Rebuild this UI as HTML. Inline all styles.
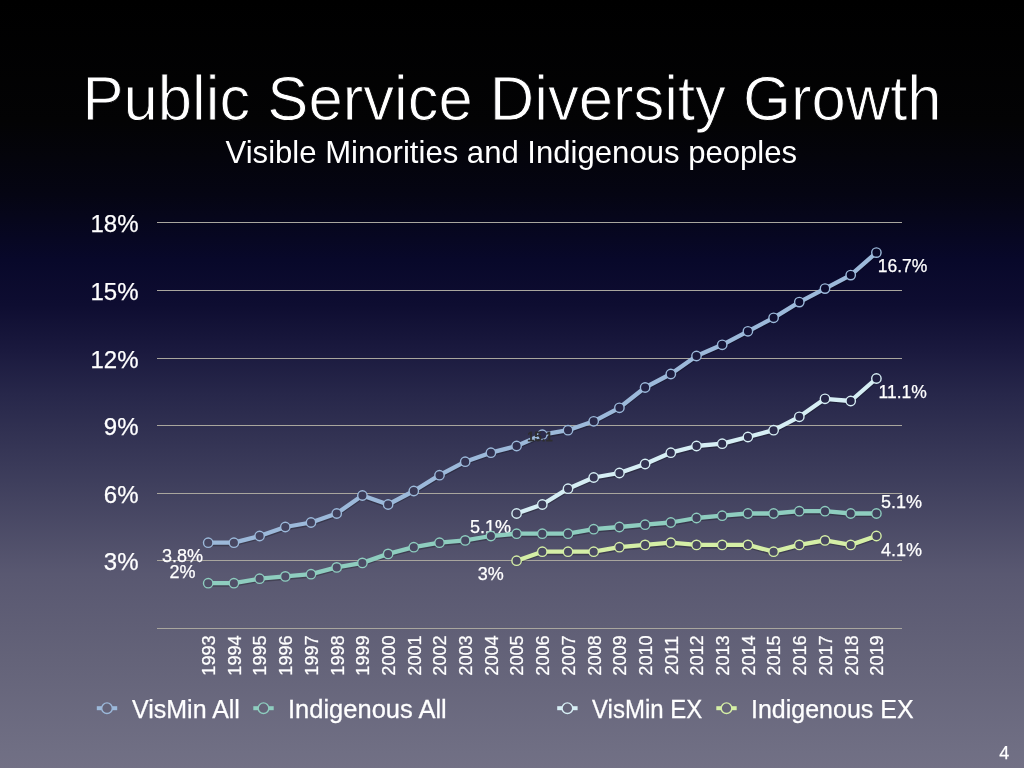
<!DOCTYPE html>
<html><head><meta charset="utf-8"><style>
html,body{margin:0;padding:0;width:1024px;height:768px;overflow:hidden}
body{background:linear-gradient(to bottom,#000000 0px,#030304 120px,#050513 195px,#08082a 260px,#0e0d31 305px,#1a193e 350px,#27274a 394px,#3f3f5d 484px,#595871 574px,#646379 660px,#706f84 754px,#727085 768px);font-family:"Liberation Sans", sans-serif}
svg{position:absolute;left:0;top:0;will-change:transform;-webkit-font-smoothing:antialiased}
svg text{font-family:"Liberation Sans", sans-serif;stroke:#fff;stroke-width:0.25px}
</style></head><body>
<svg width="1024" height="768" viewBox="0 0 1024 768">
<defs><linearGradient id="bg" gradientUnits="userSpaceOnUse" x1="0" y1="0" x2="0" y2="768">
<stop offset="0.0000" stop-color="#000000"/><stop offset="0.1562" stop-color="#030304"/><stop offset="0.2539" stop-color="#050513"/><stop offset="0.3385" stop-color="#08082a"/><stop offset="0.3971" stop-color="#0e0d31"/><stop offset="0.4557" stop-color="#1a193e"/><stop offset="0.5130" stop-color="#27274a"/><stop offset="0.6302" stop-color="#3f3f5d"/><stop offset="0.7474" stop-color="#595871"/><stop offset="0.8594" stop-color="#646379"/><stop offset="0.9818" stop-color="#706f84"/><stop offset="1.0000" stop-color="#727085"/>
</linearGradient></defs>
<text transform="translate(512,119.6) scale(1,1.035)" text-anchor="middle" font-size="61.6" fill="#fff" style="stroke:#020203;stroke-width:0.9px">Public Service Diversity Growth</text>
<text x="511.3" y="163.2" text-anchor="middle" font-size="31.1" fill="#fff" style="stroke:none">Visible Minorities and Indigenous peoples</text>
<rect x="157" y="628" width="745" height="1" fill="#a9a69e"/><rect x="157" y="560" width="745" height="1" fill="#a9a69e"/><rect x="157" y="493" width="745" height="1" fill="#a9a69e"/><rect x="157" y="425" width="745" height="1" fill="#a9a69e"/><rect x="157" y="358" width="745" height="1" fill="#a9a69e"/><rect x="157" y="290" width="745" height="1" fill="#a9a69e"/><rect x="157" y="222" width="745" height="1" fill="#a9a69e"/><text x="138.5" y="570.2" text-anchor="end" font-size="24" fill="#fff">3%</text><text x="138.5" y="503.2" text-anchor="end" font-size="24" fill="#fff">6%</text><text x="138.5" y="435.2" text-anchor="end" font-size="24" fill="#fff">9%</text><text x="138.5" y="368.2" text-anchor="end" font-size="24" fill="#fff">12%</text><text x="138.5" y="300.2" text-anchor="end" font-size="24" fill="#fff">15%</text><text x="138.5" y="232.2" text-anchor="end" font-size="24" fill="#fff">18%</text><text transform="translate(215.0,655.5) rotate(-90)" text-anchor="middle" font-size="18.2" fill="#fff">1993</text><text transform="translate(240.7,655.5) rotate(-90)" text-anchor="middle" font-size="18.2" fill="#fff">1994</text><text transform="translate(266.4,655.5) rotate(-90)" text-anchor="middle" font-size="18.2" fill="#fff">1995</text><text transform="translate(292.1,655.5) rotate(-90)" text-anchor="middle" font-size="18.2" fill="#fff">1996</text><text transform="translate(317.8,655.5) rotate(-90)" text-anchor="middle" font-size="18.2" fill="#fff">1997</text><text transform="translate(343.5,655.5) rotate(-90)" text-anchor="middle" font-size="18.2" fill="#fff">1998</text><text transform="translate(369.2,655.5) rotate(-90)" text-anchor="middle" font-size="18.2" fill="#fff">1999</text><text transform="translate(394.9,655.5) rotate(-90)" text-anchor="middle" font-size="18.2" fill="#fff">2000</text><text transform="translate(420.6,655.5) rotate(-90)" text-anchor="middle" font-size="18.2" fill="#fff">2001</text><text transform="translate(446.3,655.5) rotate(-90)" text-anchor="middle" font-size="18.2" fill="#fff">2002</text><text transform="translate(472.0,655.5) rotate(-90)" text-anchor="middle" font-size="18.2" fill="#fff">2003</text><text transform="translate(497.7,655.5) rotate(-90)" text-anchor="middle" font-size="18.2" fill="#fff">2004</text><text transform="translate(523.4,655.5) rotate(-90)" text-anchor="middle" font-size="18.2" fill="#fff">2005</text><text transform="translate(549.1,655.5) rotate(-90)" text-anchor="middle" font-size="18.2" fill="#fff">2006</text><text transform="translate(574.8,655.5) rotate(-90)" text-anchor="middle" font-size="18.2" fill="#fff">2007</text><text transform="translate(600.5,655.5) rotate(-90)" text-anchor="middle" font-size="18.2" fill="#fff">2008</text><text transform="translate(626.2,655.5) rotate(-90)" text-anchor="middle" font-size="18.2" fill="#fff">2009</text><text transform="translate(651.9,655.5) rotate(-90)" text-anchor="middle" font-size="18.2" fill="#fff">2010</text><text transform="translate(677.6,655.5) rotate(-90)" text-anchor="middle" font-size="18.2" fill="#fff">2011</text><text transform="translate(703.3,655.5) rotate(-90)" text-anchor="middle" font-size="18.2" fill="#fff">2012</text><text transform="translate(729.0,655.5) rotate(-90)" text-anchor="middle" font-size="18.2" fill="#fff">2013</text><text transform="translate(754.7,655.5) rotate(-90)" text-anchor="middle" font-size="18.2" fill="#fff">2014</text><text transform="translate(780.4,655.5) rotate(-90)" text-anchor="middle" font-size="18.2" fill="#fff">2015</text><text transform="translate(806.1,655.5) rotate(-90)" text-anchor="middle" font-size="18.2" fill="#fff">2016</text><text transform="translate(831.8,655.5) rotate(-90)" text-anchor="middle" font-size="18.2" fill="#fff">2017</text><text transform="translate(857.5,655.5) rotate(-90)" text-anchor="middle" font-size="18.2" fill="#fff">2018</text><text transform="translate(883.2,655.5) rotate(-90)" text-anchor="middle" font-size="18.2" fill="#fff">2019</text><text x="490.4" y="532.7" text-anchor="middle" font-size="18" fill="#fff">5.1%</text><path d="M208.2,542.7 L233.9,542.7 L259.6,536.0 L285.3,527.0 L311.0,522.5 L336.7,513.5 L362.4,495.5 L388.1,504.5 L413.8,491.0 L439.5,475.2 L465.2,461.7 L490.9,452.7 L516.6,446.0 L542.3,434.7 L568.0,430.2 L593.7,421.3 L619.4,407.8 L645.1,387.5 L670.8,374.0 L696.5,356.0 L722.2,344.8 L747.9,331.3 L773.6,317.8 L799.3,302.1 L825.0,288.6 L850.7,275.1 L876.4,252.6" fill="none" stroke="rgba(0,0,0,0.25)" stroke-width="4" stroke-linejoin="round" transform="translate(0,1.5)"/><path d="M208.2,542.7 L233.9,542.7 L259.6,536.0 L285.3,527.0 L311.0,522.5 L336.7,513.5 L362.4,495.5 L388.1,504.5 L413.8,491.0 L439.5,475.2 L465.2,461.7 L490.9,452.7 L516.6,446.0 L542.3,434.7 L568.0,430.2 L593.7,421.3 L619.4,407.8 L645.1,387.5 L670.8,374.0 L696.5,356.0 L722.2,344.8 L747.9,331.3 L773.6,317.8 L799.3,302.1 L825.0,288.6 L850.7,275.1 L876.4,252.6" fill="none" stroke="#9cb9da" stroke-width="4.3" stroke-linejoin="round"/><circle cx="208.2" cy="542.7" r="4.7" fill="url(#bg)"/><circle cx="208.2" cy="542.7" r="4.7" fill="rgba(10,8,30,0.12)" stroke="#9cb9da" stroke-width="1.4"/><circle cx="233.9" cy="542.7" r="4.7" fill="url(#bg)"/><circle cx="233.9" cy="542.7" r="4.7" fill="rgba(10,8,30,0.12)" stroke="#9cb9da" stroke-width="1.4"/><circle cx="259.6" cy="536.0" r="4.7" fill="url(#bg)"/><circle cx="259.6" cy="536.0" r="4.7" fill="rgba(10,8,30,0.12)" stroke="#9cb9da" stroke-width="1.4"/><circle cx="285.3" cy="527.0" r="4.7" fill="url(#bg)"/><circle cx="285.3" cy="527.0" r="4.7" fill="rgba(10,8,30,0.12)" stroke="#9cb9da" stroke-width="1.4"/><circle cx="311.0" cy="522.5" r="4.7" fill="url(#bg)"/><circle cx="311.0" cy="522.5" r="4.7" fill="rgba(10,8,30,0.12)" stroke="#9cb9da" stroke-width="1.4"/><circle cx="336.7" cy="513.5" r="4.7" fill="url(#bg)"/><circle cx="336.7" cy="513.5" r="4.7" fill="rgba(10,8,30,0.12)" stroke="#9cb9da" stroke-width="1.4"/><circle cx="362.4" cy="495.5" r="4.7" fill="url(#bg)"/><circle cx="362.4" cy="495.5" r="4.7" fill="rgba(10,8,30,0.12)" stroke="#9cb9da" stroke-width="1.4"/><circle cx="388.1" cy="504.5" r="4.7" fill="url(#bg)"/><circle cx="388.1" cy="504.5" r="4.7" fill="rgba(10,8,30,0.12)" stroke="#9cb9da" stroke-width="1.4"/><circle cx="413.8" cy="491.0" r="4.7" fill="url(#bg)"/><circle cx="413.8" cy="491.0" r="4.7" fill="rgba(10,8,30,0.12)" stroke="#9cb9da" stroke-width="1.4"/><circle cx="439.5" cy="475.2" r="4.7" fill="url(#bg)"/><circle cx="439.5" cy="475.2" r="4.7" fill="rgba(10,8,30,0.12)" stroke="#9cb9da" stroke-width="1.4"/><circle cx="465.2" cy="461.7" r="4.7" fill="url(#bg)"/><circle cx="465.2" cy="461.7" r="4.7" fill="rgba(10,8,30,0.12)" stroke="#9cb9da" stroke-width="1.4"/><circle cx="490.9" cy="452.7" r="4.7" fill="url(#bg)"/><circle cx="490.9" cy="452.7" r="4.7" fill="rgba(10,8,30,0.12)" stroke="#9cb9da" stroke-width="1.4"/><circle cx="516.6" cy="446.0" r="4.7" fill="url(#bg)"/><circle cx="516.6" cy="446.0" r="4.7" fill="rgba(10,8,30,0.12)" stroke="#9cb9da" stroke-width="1.4"/><circle cx="542.3" cy="434.7" r="4.7" fill="url(#bg)"/><circle cx="542.3" cy="434.7" r="4.7" fill="rgba(10,8,30,0.12)" stroke="#9cb9da" stroke-width="1.4"/><circle cx="568.0" cy="430.2" r="4.7" fill="url(#bg)"/><circle cx="568.0" cy="430.2" r="4.7" fill="rgba(10,8,30,0.12)" stroke="#9cb9da" stroke-width="1.4"/><circle cx="593.7" cy="421.3" r="4.7" fill="url(#bg)"/><circle cx="593.7" cy="421.3" r="4.7" fill="rgba(10,8,30,0.12)" stroke="#9cb9da" stroke-width="1.4"/><circle cx="619.4" cy="407.8" r="4.7" fill="url(#bg)"/><circle cx="619.4" cy="407.8" r="4.7" fill="rgba(10,8,30,0.12)" stroke="#9cb9da" stroke-width="1.4"/><circle cx="645.1" cy="387.5" r="4.7" fill="url(#bg)"/><circle cx="645.1" cy="387.5" r="4.7" fill="rgba(10,8,30,0.12)" stroke="#9cb9da" stroke-width="1.4"/><circle cx="670.8" cy="374.0" r="4.7" fill="url(#bg)"/><circle cx="670.8" cy="374.0" r="4.7" fill="rgba(10,8,30,0.12)" stroke="#9cb9da" stroke-width="1.4"/><circle cx="696.5" cy="356.0" r="4.7" fill="url(#bg)"/><circle cx="696.5" cy="356.0" r="4.7" fill="rgba(10,8,30,0.12)" stroke="#9cb9da" stroke-width="1.4"/><circle cx="722.2" cy="344.8" r="4.7" fill="url(#bg)"/><circle cx="722.2" cy="344.8" r="4.7" fill="rgba(10,8,30,0.12)" stroke="#9cb9da" stroke-width="1.4"/><circle cx="747.9" cy="331.3" r="4.7" fill="url(#bg)"/><circle cx="747.9" cy="331.3" r="4.7" fill="rgba(10,8,30,0.12)" stroke="#9cb9da" stroke-width="1.4"/><circle cx="773.6" cy="317.8" r="4.7" fill="url(#bg)"/><circle cx="773.6" cy="317.8" r="4.7" fill="rgba(10,8,30,0.12)" stroke="#9cb9da" stroke-width="1.4"/><circle cx="799.3" cy="302.1" r="4.7" fill="url(#bg)"/><circle cx="799.3" cy="302.1" r="4.7" fill="rgba(10,8,30,0.12)" stroke="#9cb9da" stroke-width="1.4"/><circle cx="825.0" cy="288.6" r="4.7" fill="url(#bg)"/><circle cx="825.0" cy="288.6" r="4.7" fill="rgba(10,8,30,0.12)" stroke="#9cb9da" stroke-width="1.4"/><circle cx="850.7" cy="275.1" r="4.7" fill="url(#bg)"/><circle cx="850.7" cy="275.1" r="4.7" fill="rgba(10,8,30,0.12)" stroke="#9cb9da" stroke-width="1.4"/><circle cx="876.4" cy="252.6" r="4.7" fill="url(#bg)"/><circle cx="876.4" cy="252.6" r="4.7" fill="rgba(10,8,30,0.12)" stroke="#9cb9da" stroke-width="1.4"/><path d="M208.2,583.2 L233.9,583.2 L259.6,578.7 L285.3,576.4 L311.0,574.2 L336.7,567.4 L362.4,562.9 L388.1,553.9 L413.8,547.2 L439.5,542.7 L465.2,540.4 L490.9,536.0 L516.6,533.7 L542.3,533.7 L568.0,533.7 L593.7,529.2 L619.4,527.0 L645.1,524.7 L670.8,522.5 L696.5,518.0 L722.2,515.7 L747.9,513.5 L773.6,513.5 L799.3,511.2 L825.0,511.2 L850.7,513.5 L876.4,513.5" fill="none" stroke="rgba(0,0,0,0.25)" stroke-width="4" stroke-linejoin="round" transform="translate(0,1.5)"/><path d="M208.2,583.2 L233.9,583.2 L259.6,578.7 L285.3,576.4 L311.0,574.2 L336.7,567.4 L362.4,562.9 L388.1,553.9 L413.8,547.2 L439.5,542.7 L465.2,540.4 L490.9,536.0 L516.6,533.7 L542.3,533.7 L568.0,533.7 L593.7,529.2 L619.4,527.0 L645.1,524.7 L670.8,522.5 L696.5,518.0 L722.2,515.7 L747.9,513.5 L773.6,513.5 L799.3,511.2 L825.0,511.2 L850.7,513.5 L876.4,513.5" fill="none" stroke="#8ecdbf" stroke-width="4.3" stroke-linejoin="round"/><circle cx="208.2" cy="583.2" r="4.7" fill="url(#bg)"/><circle cx="208.2" cy="583.2" r="4.7" fill="rgba(10,8,30,0.12)" stroke="#8ecdbf" stroke-width="1.4"/><circle cx="233.9" cy="583.2" r="4.7" fill="url(#bg)"/><circle cx="233.9" cy="583.2" r="4.7" fill="rgba(10,8,30,0.12)" stroke="#8ecdbf" stroke-width="1.4"/><circle cx="259.6" cy="578.7" r="4.7" fill="url(#bg)"/><circle cx="259.6" cy="578.7" r="4.7" fill="rgba(10,8,30,0.12)" stroke="#8ecdbf" stroke-width="1.4"/><circle cx="285.3" cy="576.4" r="4.7" fill="url(#bg)"/><circle cx="285.3" cy="576.4" r="4.7" fill="rgba(10,8,30,0.12)" stroke="#8ecdbf" stroke-width="1.4"/><circle cx="311.0" cy="574.2" r="4.7" fill="url(#bg)"/><circle cx="311.0" cy="574.2" r="4.7" fill="rgba(10,8,30,0.12)" stroke="#8ecdbf" stroke-width="1.4"/><circle cx="336.7" cy="567.4" r="4.7" fill="url(#bg)"/><circle cx="336.7" cy="567.4" r="4.7" fill="rgba(10,8,30,0.12)" stroke="#8ecdbf" stroke-width="1.4"/><circle cx="362.4" cy="562.9" r="4.7" fill="url(#bg)"/><circle cx="362.4" cy="562.9" r="4.7" fill="rgba(10,8,30,0.12)" stroke="#8ecdbf" stroke-width="1.4"/><circle cx="388.1" cy="553.9" r="4.7" fill="url(#bg)"/><circle cx="388.1" cy="553.9" r="4.7" fill="rgba(10,8,30,0.12)" stroke="#8ecdbf" stroke-width="1.4"/><circle cx="413.8" cy="547.2" r="4.7" fill="url(#bg)"/><circle cx="413.8" cy="547.2" r="4.7" fill="rgba(10,8,30,0.12)" stroke="#8ecdbf" stroke-width="1.4"/><circle cx="439.5" cy="542.7" r="4.7" fill="url(#bg)"/><circle cx="439.5" cy="542.7" r="4.7" fill="rgba(10,8,30,0.12)" stroke="#8ecdbf" stroke-width="1.4"/><circle cx="465.2" cy="540.4" r="4.7" fill="url(#bg)"/><circle cx="465.2" cy="540.4" r="4.7" fill="rgba(10,8,30,0.12)" stroke="#8ecdbf" stroke-width="1.4"/><circle cx="490.9" cy="536.0" r="4.7" fill="url(#bg)"/><circle cx="490.9" cy="536.0" r="4.7" fill="rgba(10,8,30,0.12)" stroke="#8ecdbf" stroke-width="1.4"/><circle cx="516.6" cy="533.7" r="4.7" fill="url(#bg)"/><circle cx="516.6" cy="533.7" r="4.7" fill="rgba(10,8,30,0.12)" stroke="#8ecdbf" stroke-width="1.4"/><circle cx="542.3" cy="533.7" r="4.7" fill="url(#bg)"/><circle cx="542.3" cy="533.7" r="4.7" fill="rgba(10,8,30,0.12)" stroke="#8ecdbf" stroke-width="1.4"/><circle cx="568.0" cy="533.7" r="4.7" fill="url(#bg)"/><circle cx="568.0" cy="533.7" r="4.7" fill="rgba(10,8,30,0.12)" stroke="#8ecdbf" stroke-width="1.4"/><circle cx="593.7" cy="529.2" r="4.7" fill="url(#bg)"/><circle cx="593.7" cy="529.2" r="4.7" fill="rgba(10,8,30,0.12)" stroke="#8ecdbf" stroke-width="1.4"/><circle cx="619.4" cy="527.0" r="4.7" fill="url(#bg)"/><circle cx="619.4" cy="527.0" r="4.7" fill="rgba(10,8,30,0.12)" stroke="#8ecdbf" stroke-width="1.4"/><circle cx="645.1" cy="524.7" r="4.7" fill="url(#bg)"/><circle cx="645.1" cy="524.7" r="4.7" fill="rgba(10,8,30,0.12)" stroke="#8ecdbf" stroke-width="1.4"/><circle cx="670.8" cy="522.5" r="4.7" fill="url(#bg)"/><circle cx="670.8" cy="522.5" r="4.7" fill="rgba(10,8,30,0.12)" stroke="#8ecdbf" stroke-width="1.4"/><circle cx="696.5" cy="518.0" r="4.7" fill="url(#bg)"/><circle cx="696.5" cy="518.0" r="4.7" fill="rgba(10,8,30,0.12)" stroke="#8ecdbf" stroke-width="1.4"/><circle cx="722.2" cy="515.7" r="4.7" fill="url(#bg)"/><circle cx="722.2" cy="515.7" r="4.7" fill="rgba(10,8,30,0.12)" stroke="#8ecdbf" stroke-width="1.4"/><circle cx="747.9" cy="513.5" r="4.7" fill="url(#bg)"/><circle cx="747.9" cy="513.5" r="4.7" fill="rgba(10,8,30,0.12)" stroke="#8ecdbf" stroke-width="1.4"/><circle cx="773.6" cy="513.5" r="4.7" fill="url(#bg)"/><circle cx="773.6" cy="513.5" r="4.7" fill="rgba(10,8,30,0.12)" stroke="#8ecdbf" stroke-width="1.4"/><circle cx="799.3" cy="511.2" r="4.7" fill="url(#bg)"/><circle cx="799.3" cy="511.2" r="4.7" fill="rgba(10,8,30,0.12)" stroke="#8ecdbf" stroke-width="1.4"/><circle cx="825.0" cy="511.2" r="4.7" fill="url(#bg)"/><circle cx="825.0" cy="511.2" r="4.7" fill="rgba(10,8,30,0.12)" stroke="#8ecdbf" stroke-width="1.4"/><circle cx="850.7" cy="513.5" r="4.7" fill="url(#bg)"/><circle cx="850.7" cy="513.5" r="4.7" fill="rgba(10,8,30,0.12)" stroke="#8ecdbf" stroke-width="1.4"/><circle cx="876.4" cy="513.5" r="4.7" fill="url(#bg)"/><circle cx="876.4" cy="513.5" r="4.7" fill="rgba(10,8,30,0.12)" stroke="#8ecdbf" stroke-width="1.4"/><path d="M516.6,513.5 L542.3,504.5 L568.0,488.7 L593.7,477.5 L619.4,473.0 L645.1,464.0 L670.8,452.7 L696.5,446.0 L722.2,443.7 L747.9,437.0 L773.6,430.2 L799.3,416.8 L825.0,398.8 L850.7,401.0 L876.4,378.5" fill="none" stroke="rgba(0,0,0,0.25)" stroke-width="4" stroke-linejoin="round" transform="translate(0,1.5)"/><path d="M516.6,513.5 L542.3,504.5 L568.0,488.7 L593.7,477.5 L619.4,473.0 L645.1,464.0 L670.8,452.7 L696.5,446.0 L722.2,443.7 L747.9,437.0 L773.6,430.2 L799.3,416.8 L825.0,398.8 L850.7,401.0 L876.4,378.5" fill="none" stroke="#d6eef4" stroke-width="4.3" stroke-linejoin="round"/><circle cx="516.6" cy="513.5" r="4.7" fill="url(#bg)"/><circle cx="516.6" cy="513.5" r="4.7" fill="rgba(10,8,30,0.12)" stroke="#d6eef4" stroke-width="1.4"/><circle cx="542.3" cy="504.5" r="4.7" fill="url(#bg)"/><circle cx="542.3" cy="504.5" r="4.7" fill="rgba(10,8,30,0.12)" stroke="#d6eef4" stroke-width="1.4"/><circle cx="568.0" cy="488.7" r="4.7" fill="url(#bg)"/><circle cx="568.0" cy="488.7" r="4.7" fill="rgba(10,8,30,0.12)" stroke="#d6eef4" stroke-width="1.4"/><circle cx="593.7" cy="477.5" r="4.7" fill="url(#bg)"/><circle cx="593.7" cy="477.5" r="4.7" fill="rgba(10,8,30,0.12)" stroke="#d6eef4" stroke-width="1.4"/><circle cx="619.4" cy="473.0" r="4.7" fill="url(#bg)"/><circle cx="619.4" cy="473.0" r="4.7" fill="rgba(10,8,30,0.12)" stroke="#d6eef4" stroke-width="1.4"/><circle cx="645.1" cy="464.0" r="4.7" fill="url(#bg)"/><circle cx="645.1" cy="464.0" r="4.7" fill="rgba(10,8,30,0.12)" stroke="#d6eef4" stroke-width="1.4"/><circle cx="670.8" cy="452.7" r="4.7" fill="url(#bg)"/><circle cx="670.8" cy="452.7" r="4.7" fill="rgba(10,8,30,0.12)" stroke="#d6eef4" stroke-width="1.4"/><circle cx="696.5" cy="446.0" r="4.7" fill="url(#bg)"/><circle cx="696.5" cy="446.0" r="4.7" fill="rgba(10,8,30,0.12)" stroke="#d6eef4" stroke-width="1.4"/><circle cx="722.2" cy="443.7" r="4.7" fill="url(#bg)"/><circle cx="722.2" cy="443.7" r="4.7" fill="rgba(10,8,30,0.12)" stroke="#d6eef4" stroke-width="1.4"/><circle cx="747.9" cy="437.0" r="4.7" fill="url(#bg)"/><circle cx="747.9" cy="437.0" r="4.7" fill="rgba(10,8,30,0.12)" stroke="#d6eef4" stroke-width="1.4"/><circle cx="773.6" cy="430.2" r="4.7" fill="url(#bg)"/><circle cx="773.6" cy="430.2" r="4.7" fill="rgba(10,8,30,0.12)" stroke="#d6eef4" stroke-width="1.4"/><circle cx="799.3" cy="416.8" r="4.7" fill="url(#bg)"/><circle cx="799.3" cy="416.8" r="4.7" fill="rgba(10,8,30,0.12)" stroke="#d6eef4" stroke-width="1.4"/><circle cx="825.0" cy="398.8" r="4.7" fill="url(#bg)"/><circle cx="825.0" cy="398.8" r="4.7" fill="rgba(10,8,30,0.12)" stroke="#d6eef4" stroke-width="1.4"/><circle cx="850.7" cy="401.0" r="4.7" fill="url(#bg)"/><circle cx="850.7" cy="401.0" r="4.7" fill="rgba(10,8,30,0.12)" stroke="#d6eef4" stroke-width="1.4"/><circle cx="876.4" cy="378.5" r="4.7" fill="url(#bg)"/><circle cx="876.4" cy="378.5" r="4.7" fill="rgba(10,8,30,0.12)" stroke="#d6eef4" stroke-width="1.4"/><path d="M516.6,560.7 L542.3,551.7 L568.0,551.7 L593.7,551.7 L619.4,547.2 L645.1,544.9 L670.8,542.7 L696.5,544.9 L722.2,544.9 L747.9,544.9 L773.6,551.7 L799.3,544.9 L825.0,540.4 L850.7,544.9 L876.4,536.0" fill="none" stroke="rgba(0,0,0,0.25)" stroke-width="4" stroke-linejoin="round" transform="translate(0,1.5)"/><path d="M516.6,560.7 L542.3,551.7 L568.0,551.7 L593.7,551.7 L619.4,547.2 L645.1,544.9 L670.8,542.7 L696.5,544.9 L722.2,544.9 L747.9,544.9 L773.6,551.7 L799.3,544.9 L825.0,540.4 L850.7,544.9 L876.4,536.0" fill="none" stroke="#d5efa6" stroke-width="4.3" stroke-linejoin="round"/><circle cx="516.6" cy="560.7" r="4.7" fill="url(#bg)"/><circle cx="516.6" cy="560.7" r="4.7" fill="rgba(10,8,30,0.12)" stroke="#d5efa6" stroke-width="1.4"/><circle cx="542.3" cy="551.7" r="4.7" fill="url(#bg)"/><circle cx="542.3" cy="551.7" r="4.7" fill="rgba(10,8,30,0.12)" stroke="#d5efa6" stroke-width="1.4"/><circle cx="568.0" cy="551.7" r="4.7" fill="url(#bg)"/><circle cx="568.0" cy="551.7" r="4.7" fill="rgba(10,8,30,0.12)" stroke="#d5efa6" stroke-width="1.4"/><circle cx="593.7" cy="551.7" r="4.7" fill="url(#bg)"/><circle cx="593.7" cy="551.7" r="4.7" fill="rgba(10,8,30,0.12)" stroke="#d5efa6" stroke-width="1.4"/><circle cx="619.4" cy="547.2" r="4.7" fill="url(#bg)"/><circle cx="619.4" cy="547.2" r="4.7" fill="rgba(10,8,30,0.12)" stroke="#d5efa6" stroke-width="1.4"/><circle cx="645.1" cy="544.9" r="4.7" fill="url(#bg)"/><circle cx="645.1" cy="544.9" r="4.7" fill="rgba(10,8,30,0.12)" stroke="#d5efa6" stroke-width="1.4"/><circle cx="670.8" cy="542.7" r="4.7" fill="url(#bg)"/><circle cx="670.8" cy="542.7" r="4.7" fill="rgba(10,8,30,0.12)" stroke="#d5efa6" stroke-width="1.4"/><circle cx="696.5" cy="544.9" r="4.7" fill="url(#bg)"/><circle cx="696.5" cy="544.9" r="4.7" fill="rgba(10,8,30,0.12)" stroke="#d5efa6" stroke-width="1.4"/><circle cx="722.2" cy="544.9" r="4.7" fill="url(#bg)"/><circle cx="722.2" cy="544.9" r="4.7" fill="rgba(10,8,30,0.12)" stroke="#d5efa6" stroke-width="1.4"/><circle cx="747.9" cy="544.9" r="4.7" fill="url(#bg)"/><circle cx="747.9" cy="544.9" r="4.7" fill="rgba(10,8,30,0.12)" stroke="#d5efa6" stroke-width="1.4"/><circle cx="773.6" cy="551.7" r="4.7" fill="url(#bg)"/><circle cx="773.6" cy="551.7" r="4.7" fill="rgba(10,8,30,0.12)" stroke="#d5efa6" stroke-width="1.4"/><circle cx="799.3" cy="544.9" r="4.7" fill="url(#bg)"/><circle cx="799.3" cy="544.9" r="4.7" fill="rgba(10,8,30,0.12)" stroke="#d5efa6" stroke-width="1.4"/><circle cx="825.0" cy="540.4" r="4.7" fill="url(#bg)"/><circle cx="825.0" cy="540.4" r="4.7" fill="rgba(10,8,30,0.12)" stroke="#d5efa6" stroke-width="1.4"/><circle cx="850.7" cy="544.9" r="4.7" fill="url(#bg)"/><circle cx="850.7" cy="544.9" r="4.7" fill="rgba(10,8,30,0.12)" stroke="#d5efa6" stroke-width="1.4"/><circle cx="876.4" cy="536.0" r="4.7" fill="url(#bg)"/><circle cx="876.4" cy="536.0" r="4.7" fill="rgba(10,8,30,0.12)" stroke="#d5efa6" stroke-width="1.4"/><text x="540" y="440.8" text-anchor="middle" font-size="13" fill="#2e2e30" style="stroke:#2e2e30;stroke-width:0.8px">15.1</text><text x="182.4" y="562.3" text-anchor="middle" font-size="18" fill="#fff">3.8%</text><text x="182.6" y="578.0" text-anchor="middle" font-size="18" fill="#fff">2%</text><text x="490.7" y="580.2" text-anchor="middle" font-size="18" fill="#fff">3%</text><text x="902.6" y="271.7" text-anchor="middle" font-size="17.5" fill="#fff">16.7%</text><text x="902.7" y="398.1" text-anchor="middle" font-size="17.5" fill="#fff">11.1%</text><text x="901.6" y="508.1" text-anchor="middle" font-size="18" fill="#fff">5.1%</text><text x="901.6" y="555.6" text-anchor="middle" font-size="18" fill="#fff">4.1%</text><rect x="96.8" y="706.2" width="20.4" height="4" fill="#9cb9da"/><circle cx="107.0" cy="708.2" r="5.3" fill="#646378" stroke="#9cb9da" stroke-width="1.4"/><rect x="253.3" y="706.2" width="20.4" height="4" fill="#8ecdbf"/><circle cx="263.5" cy="708.2" r="5.3" fill="#646378" stroke="#8ecdbf" stroke-width="1.4"/><rect x="557.2" y="706.2" width="20.4" height="4" fill="#d6eef4"/><circle cx="567.4" cy="708.2" r="5.3" fill="#646378" stroke="#d6eef4" stroke-width="1.4"/><rect x="716.3" y="706.2" width="20.4" height="4" fill="#d5efa6"/><circle cx="726.5" cy="708.2" r="5.3" fill="#646378" stroke="#d5efa6" stroke-width="1.4"/><text transform="translate(132,717.8) scale(1,1)" font-size="25" fill="#fff">VisMin All</text><text transform="translate(288,717.8) scale(1.02,1)" font-size="25" fill="#fff">Indigenous All</text><text transform="translate(592,717.8) scale(0.96,1)" font-size="25" fill="#fff">VisMin EX</text><text transform="translate(751,717.8) scale(1,1)" font-size="25" fill="#fff">Indigenous EX</text><text x="1004.3" y="759" text-anchor="middle" font-size="18" fill="#fff">4</text>
</svg>
</body></html>
